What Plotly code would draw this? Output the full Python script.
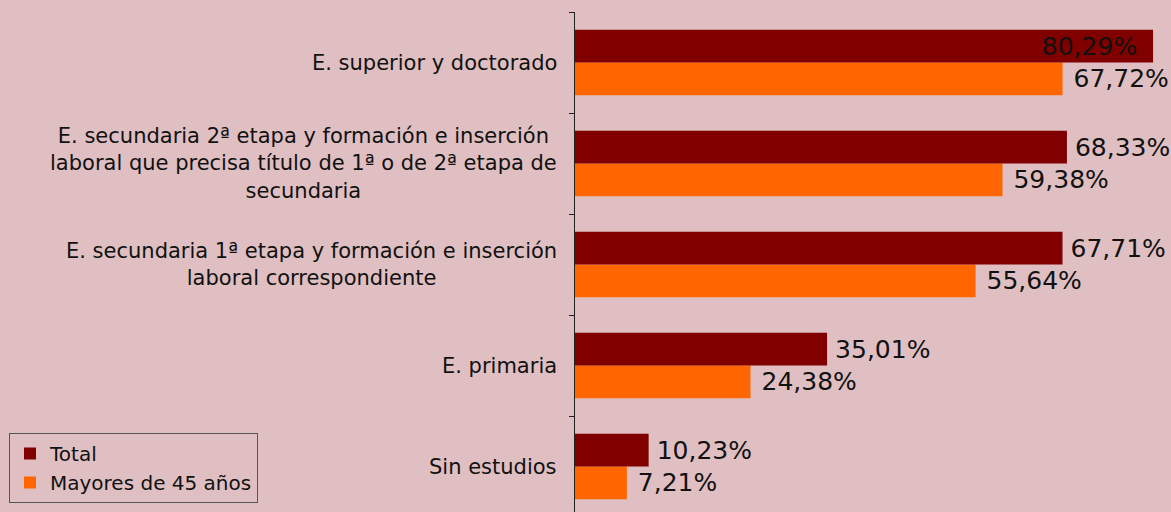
import plotly.graph_objects as go

categories = [
    "Sin estudios",
    "E. primaria",
    "E. secundaria 1ª etapa y formación e inserción<br>laboral correspondiente",
    "E. secundaria 2ª etapa y formación e inserción<br>laboral que precisa título de 1ª o de 2ª etapa de<br>secundaria",
    "E. superior y doctorado",
]
total = [10.23, 35.01, 67.71, 68.33, 80.29]
mayores = [7.21, 24.38, 55.64, 59.38, 67.72]
series_names = ["Total", "Mayores de 45 años"]
colors = ["#800000", "#FF6600"]

FONT = "Verdana, DejaVu Sans, sans-serif"
BG = "#DFBFC1"
NBSP = "\u00a0"
THIN = "\u2009"


def fmt(v):
    return f"{v:.2f}%".replace(".", ",")


total_pos = ["outside" if v < 75 else "inside" for v in total]
total_text = [(THIN + fmt(v)) if p == "outside" else (fmt(v) + NBSP + THIN)
              for v, p in zip(total, total_pos)]

fig = go.Figure()
fig.add_trace(go.Bar(
    y=categories, x=mayores, orientation="h", name=series_names[1],
    marker=dict(color=colors[1], line=dict(width=0)),
    text=[NBSP + fmt(v) for v in mayores], textposition="outside",
    textfont=dict(family=FONT, size=25, color="#111"),
    constraintext="none", cliponaxis=False, legendrank=2,
))
fig.add_trace(go.Bar(
    y=categories, x=total, orientation="h", name=series_names[0],
    marker=dict(color=colors[0], line=dict(width=0)),
    text=total_text,
    textposition=total_pos,
    insidetextanchor="end",
    textfont=dict(family=FONT, size=25, color="#111"),
    constraintext="none", cliponaxis=False, legendrank=1,
))

for c in categories:
    fig.add_annotation(
        x=0, y=c, xref="x", yref="y", text=c, showarrow=False,
        xanchor="right", yanchor="middle", align="center", xshift=-16,
        font=dict(family=FONT, size=21, color="#111"),
    )

fig.update_layout(
    width=1171, height=512,
    margin=dict(l=575, r=0, t=12, b=0, autoexpand=False),
    paper_bgcolor=BG, plot_bgcolor=BG,
    barmode="group", bargap=0.35, bargroupgap=0,
    font=dict(family=FONT, size=20, color="#111"),
    showlegend=True,
    legend=dict(
        xref="container", yref="container", x=9 / 1171, y=1 - 433 / 512,
        xanchor="left", yanchor="top",
        bgcolor=BG, bordercolor="#555", borderwidth=1,
        font=dict(family=FONT, size=20, color="#111"),
        tracegroupgap=0, itemsizing="constant",
    ),
    xaxis=dict(range=[0, 82.78], showgrid=False, zeroline=False,
               showticklabels=False, showline=False, ticks=""),
    yaxis=dict(range=[-0.45, 4.5], categoryorder="array", categoryarray=categories,
               showticklabels=False, showgrid=False, zeroline=False,
               showline=True, linecolor="#222", linewidth=1,
               ticks="outside", ticklen=5, tickcolor="#222", tickson="boundaries"),
)

fig.write_html("out.html", config={"displayModeBar": False},
               post_script="document.body.style.margin='0';")
